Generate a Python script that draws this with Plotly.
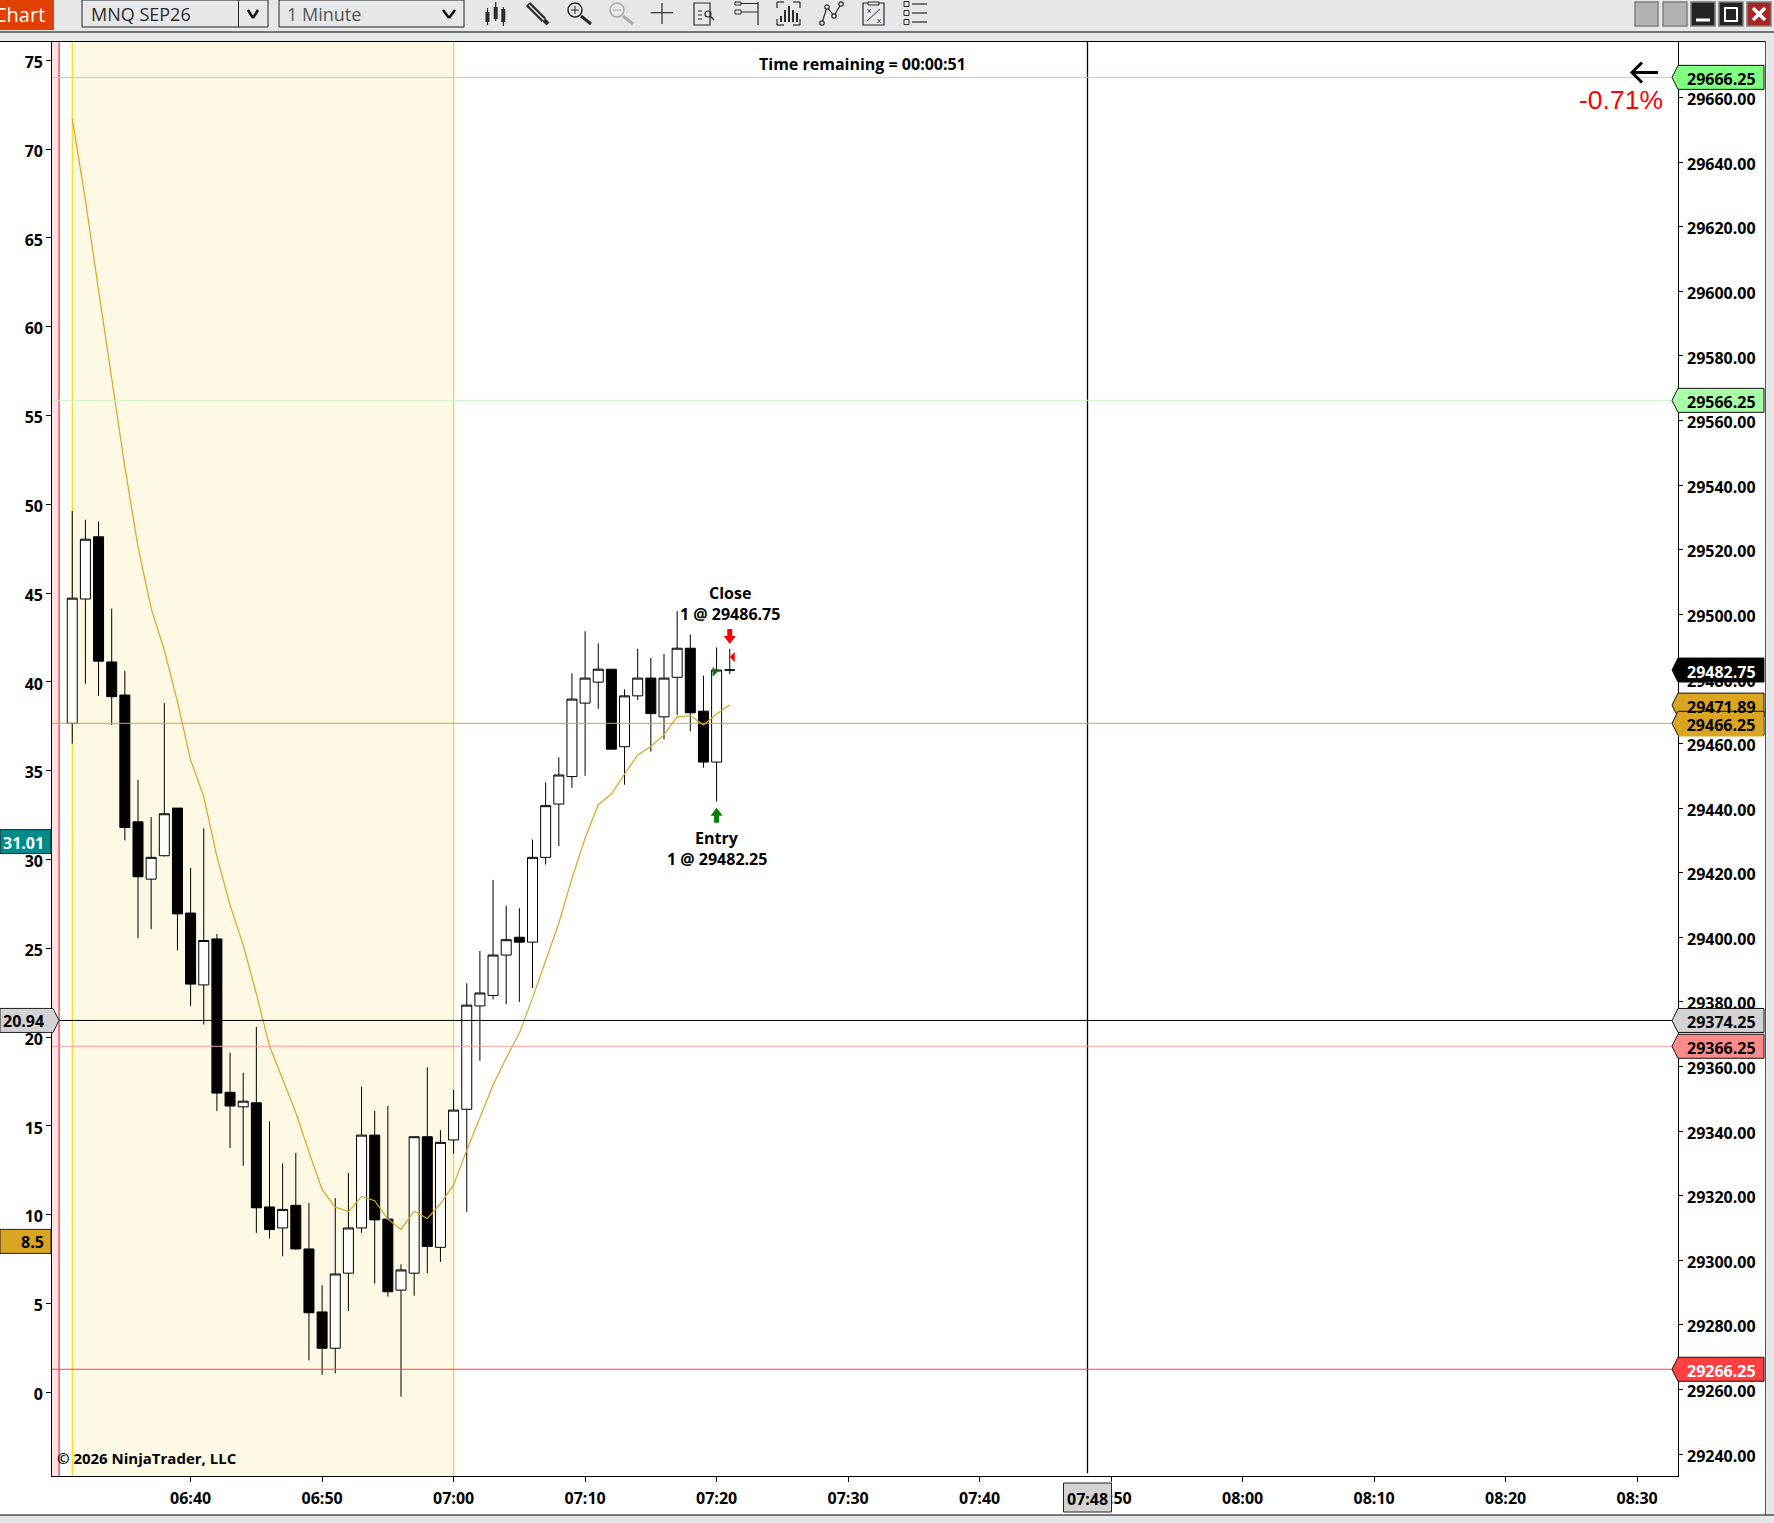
import plotly.graph_objects as go

# ---------- data ----------
DAY = "2026-06-15 "
times = [f"{DAY}{6 + (31 + i) // 60:02d}:{(31 + i) % 60:02d}:00" for i in range(51)]
opens = [29466.25, 29504.75, 29524.0, 29485.25, 29475.0, 29435.75, 29418.0, 29425.25, 29440.0, 29407.5,
         29385.25, 29399.5, 29352.0, 29347.5, 29348.75, 29316.5, 29310.0, 29317.0, 29303.5, 29284.0,
         29272.75, 29296.0, 29310.0, 29338.75, 29312.75, 29290.75, 29296.0, 29338.25, 29304.0, 29337.25,
         29346.75, 29378.75, 29382.0, 29394.5, 29400.0, 29398.5, 29424.75, 29441.25, 29449.75, 29472.5,
         29479.0, 29483.0, 29459.0, 29474.75, 29480.25, 29468.25, 29480.5, 29489.5, 29470.0, 29454.25, 29482.75]
highs = [29532.0, 29529.25, 29528.75, 29501.75, 29482.5, 29448.75, 29437.25, 29472.5, 29440.0, 29421.5,
         29433.75, 29401.0, 29364.25, 29358.0, 29372.25, 29343.0, 29330.0, 29333.25, 29317.75, 29292.25,
         29319.25, 29327.0, 29353.75, 29346.25, 29347.75, 29298.75, 29338.25, 29359.75, 29340.25, 29352.75,
         29385.75, 29395.75, 29417.75, 29409.75, 29409.0, 29430.25, 29448.0, 29455.75, 29481.75, 29494.75,
         29491.0, 29483.0, 29476.75, 29489.25, 29486.5, 29487.75, 29501.0, 29493.75, 29481.0, 29489.75, 29489.25]
lows = [29460.0, 29478.5, 29474.75, 29465.75, 29430.0, 29399.75, 29402.5, 29425.0, 29396.0, 29378.75,
        29373.0, 29346.25, 29334.75, 29329.25, 29308.5, 29306.75, 29301.25, 29303.25, 29269.0, 29264.5,
        29265.0, 29284.25, 29308.5, 29292.75, 29288.75, 29257.75, 29289.0, 29296.0, 29299.5, 29333.0,
        29315.0, 29361.75, 29380.75, 29379.25, 29380.0, 29384.25, 29422.5, 29428.25, 29446.25, 29450.0,
        29470.75, 29458.25, 29447.25, 29473.5, 29457.5, 29461.25, 29468.75, 29463.75, 29452.5, 29442.0, 29481.5]
closes = [29505.0, 29523.25, 29485.5, 29474.5, 29434.0, 29418.75, 29424.75, 29438.25, 29407.25, 29385.5,
          29399.0, 29351.75, 29347.75, 29349.25, 29316.25, 29309.5, 29315.75, 29303.5, 29283.75, 29272.75,
          29295.75, 29310.0, 29338.75, 29312.5, 29290.25, 29297.0, 29338.25, 29304.25, 29336.5, 29346.5,
          29379.0, 29382.75, 29394.5, 29399.25, 29398.5, 29424.75, 29440.75, 29450.25, 29473.75, 29480.25,
          29483.0, 29458.25, 29474.75, 29480.25, 29469.25, 29480.25, 29489.5, 29469.5, 29454.25, 29482.75, 29482.75]
ema = [29653.55, 29628.25, 29600.35, 29573.55, 29545.65, 29520.85, 29501.85, 29488.95, 29472.95, 29454.85,
       29443.55, 29424.95, 29409.95, 29397.65, 29382.45, 29366.35, 29356.25, 29345.75, 29333.55, 29321.85,
       29316.45, 29315.05, 29319.75, 29318.45, 29312.75, 29309.55, 29315.15, 29312.95, 29317.45, 29323.35,
       29334.05, 29344.05, 29354.25, 29362.65, 29370.25, 29381.15, 29392.45, 29404.35, 29418.25, 29430.65,
       29441.05, 29444.35, 29450.55, 29456.45, 29459.05, 29462.65, 29468.25, 29468.65, 29465.75, 29469.15, 29471.89]

x_ticks = ["06:40", "06:50", "07:00", "07:10", "07:20", "07:30", "07:40", "07:50",
           "08:00", "08:10", "08:20", "08:30"]
price_levels = [29666.25, 29566.25, 29466.25, 29374.25, 29366.25, 29266.25]
level_colors = ["#90EE90", "#C8F5C8", "#DAA520", "#000000", "#FF9C9C", "#FF4040"]
right_tags = [
    (29666.25, "#80FF80", "#000000"), (29566.25, "#A8FFA8", "#000000"), (29471.89, "#DAA520", "#000000"),
    (29366.25, "#FF8A8A", "#000000"), (29374.25, "#D3D3D3", "#000000"), (29266.25, "#FF4040", "#FFFFFF"),
    (29482.75, "#000000", "#FFFFFF"), (29466.25, "#DAA520", "#000000"),
]
left_values = [31.01, 20.94, 8.5]

TITLE = "Time remaining = 00:00:51"
COPYRIGHT = "\u00a9 2026 NinjaTrader, LLC"
PCT = "-0.71%"
INSTRUMENT = "MNQ SEP26"
PERIOD = "1 Minute"

# ---------- page geometry ----------
W, H = 1774, 1523
L, R, T, B = 52, 1678, 42, 1476
def X(px): return (px - L) / (R - L)
def Y(py): return (B - py) / (B - T)

FONT = "Open Sans"
FS = 16
shapes_below, shapes_above, notes = [], [], []

def line(x0, y0, x1, y1, color="#2b2b2b", width=1, target=None):
    (shapes_above if target is None else target).append(dict(
        type="line", xref="paper", yref="paper", x0=X(x0), y0=Y(y0), x1=X(x1), y1=Y(y1),
        line=dict(color=color, width=width)))

def rect(x0, y0, x1, y1, fill=None, color=None, width=1):
    shapes_above.append(dict(
        type="rect", xref="paper", yref="paper", x0=X(x0), y0=Y(y0), x1=X(x1), y1=Y(y1),
        fillcolor=fill if fill else "rgba(0,0,0,0)", line=dict(color=color if color else "rgba(0,0,0,0)", width=width if color else 0)))

def circle(cx, cy, r, color="#2b2b2b", width=1.5, fill=None):
    shapes_above.append(dict(
        type="circle", xref="paper", yref="paper", x0=X(cx - r), y0=Y(cy - r), x1=X(cx + r), y1=Y(cy + r),
        fillcolor=fill if fill else "rgba(0,0,0,0)", line=dict(color=color, width=width)))

def text(px, py, s, size=FS, color="#000000", anchor="center", weight=700, family=FONT, **kw):
    notes.append(dict(xref="paper", yref="paper", x=X(px), y=Y(py), text=s, showarrow=False,
                      xanchor=anchor, yanchor="middle", borderpad=0, borderwidth=0,
                      font=dict(family=family, size=size, color=color, weight=weight), **kw))

# ---------- time helpers on the date axis ----------
t0 = DAY + "06:30:00"
t1 = DAY + "06:31:00"
t2 = DAY + "07:00:00"
xstart = DAY + "06:29:27.6"
xend = DAY + "08:33:06.6"

# ---------- background marks ----------
shapes_below += [
    dict(type="rect", xref="x", yref="paper", x0=xstart, x1=t0, y0=0, y1=1, layer="below",
         fillcolor="#FDE3E3", line=dict(width=0)),
    dict(type="rect", xref="x", yref="paper", x0=t1, x1=t2, y0=0, y1=1, layer="below",
         fillcolor="#FEF9E5", line=dict(width=0)),
    dict(type="line", xref="x", yref="paper", x0=t0, x1=t0, y0=0, y1=1, layer="below",
         line=dict(color="#FF0000", width=1)),
    dict(type="line", xref="x", yref="paper", x0=t1, x1=t1, y0=0, y1=1, layer="below",
         line=dict(color="#FFD700", width=1.2)),
    dict(type="line", xref="x", yref="paper", x0=t2, x1=t2, y0=0, y1=1, layer="below",
         line=dict(color="#FFD700", width=1.2)),
]

# crosshair vertical
cross_t = DAY + "07:48:12.3"
shapes_above.append(dict(type="line", xref="x", yref="paper", x0=cross_t, x1=cross_t,
                         y0=0.002, y1=1, line=dict(color="#000000", width=1.3)))

# horizontal levels
for lv, col in zip(price_levels, level_colors):
    shapes_above.append(dict(type="line", xref="paper", yref="y2", x0=0, x1=X(1672), y0=lv, y1=lv,
                             line=dict(color=col, width=1)))

# ---------- toolbar and frame ----------
GRAY = "#E6E7E8"
rect(0, 0, W, 41, GRAY)
line(0, 32, W, 32, "#000000", 1)
line(0, 41.5, W, 41.5, "#000000", 1)
rect(1766, 41, W, H, GRAY)
line(1765.5, 41, 1765.5, 1515, "#555555", 1)
rect(0, 1515, W, H, GRAY)
line(0, 1515, W, 1515, "#000000", 1)
rect(0, 0, 54, 30, "#E04000")
text(45, 14, "Chart", 20, "#FFFFFF", "right", 400)
rect(82, 0, 268, 27, GRAY, "#222222")
line(238.5, 0, 238.5, 27, "#222222")
text(91, 14, INSTRUMENT, 18, "#2b2b2b", "left", 400)
line(248, 10, 253, 18, "#111111", 2.5); line(253, 18, 258, 10, "#111111", 2.5)
rect(279, 0, 464, 27, GRAY, "#222222")
text(287, 14, PERIOD, 18, "#555555", "left", 400)
line(443, 10, 449, 18, "#111111", 2.5); line(449, 18, 455, 10, "#111111", 2.5)

# candlestick icon
for cx, a, b, c, d in [(487.5, 8, 25, 12, 22), (495.7, 2, 21, 7, 19), (503.3, 7, 26, 9, 22)]:
    line(cx, a, cx, b, "#2b2b2b", 1.2)
    rect(cx - 2, c, cx + 2, d, "#2b2b2b")
# pencil icon
line(528, 4, 544, 20, "#2b2b2b", 6); line(529, 5, 544, 20, "#E6E7E8", 1.5)
line(544, 20, 548, 24, "#2b2b2b", 4)
# zoom in / out
circle(575, 10, 7, "#2b2b2b", 1.5)
line(571, 10, 579, 10); line(575, 6, 575, 14)
line(581, 16, 591, 24, "#2b2b2b", 3)
circle(617, 10, 7, "#AAAAAA", 1.5)
line(613, 10, 621, 10, "#AAAAAA")
line(623, 16, 633, 24, "#AAAAAA", 3)
# crosshair
line(651, 12.7, 673, 12.7, "#2b2b2b", 1.2); line(662, 3, 662, 24, "#2b2b2b", 1.2)
# document search
rect(694, 3, 710, 25, None, "#2b2b2b", 1.2)
line(698, 11, 702, 11); line(698, 15, 702, 15); line(698, 19, 702, 19)
circle(708, 14, 3, "#2b2b2b", 1.2); line(710, 16, 714, 20, "#2b2b2b", 1.5)
# properties-like icon
rect(735, 2, 741, 5, None, "#2b2b2b"); rect(735, 10, 741, 14, None, "#2b2b2b")
line(741, 3.5, 758, 3.5); line(741, 12, 758, 12); line(758, 2, 758, 25, "#2b2b2b", 1.2)
# bracket chart icon
for a, b, c, d in [(777, 2, 784, 2), (793, 2, 800, 2), (777, 25, 784, 25), (793, 25, 800, 25),
                   (777, 2, 777, 8), (800, 2, 800, 8), (777, 19, 777, 25), (800, 19, 800, 25)]:
    line(a, b, c, d, "#2b2b2b", 1.2)
for cx, top in [(781, 16), (785, 10), (789, 6), (793, 10), (797, 13)]:
    line(cx, top, cx, 22, "#2b2b2b", 2)
# drawing polyline icon
pts = [(822, 23), (827, 7), (834, 16), (841, 4)]
for (a, b), (c, d) in zip(pts, pts[1:]):
    line(a, b, c, d, "#2b2b2b", 1.2)
for a, b in pts:
    circle(a, b, 2.2, "#2b2b2b", 1.2, GRAY)
# clipboard icon
rect(863, 3, 884, 25, None, "#2b2b2b", 1.2)
rect(868, 2, 879, 5, GRAY, "#2b2b2b")
line(867, 21, 880, 9); text(869, 10, "x", 8, "#2b2b2b", weight=400); text(879, 19, "x", 8, "#2b2b2b", weight=400)
# list icon
for cy in [4, 13, 22]:
    rect(904, cy - 2.5, 909, cy + 2.5, None, "#2b2b2b")
    line(912, cy, 927, cy, "#2b2b2b", 1.2)
# window buttons
rect(1635, 2, 1658, 26, "#B4B2B2", "#808080", 1.5)
rect(1663, 2, 1687, 26, "#B4B2B2", "#808080", 1.5)
rect(1691, 2, 1715, 26, "#242424", "#808080", 1.5)
line(1696, 20, 1710, 20, "#FFFFFF", 3)
rect(1719, 2, 1743, 26, "#242424", "#808080", 1.5)
rect(1725, 8, 1737, 21, None, "#FFFFFF", 2)
rect(1747, 2, 1771, 26, "#A82525", "#808080", 1.5)
line(1753, 8, 1765, 20, "#FFFFFF", 3.5); line(1765, 8, 1753, 20, "#FFFFFF", 3.5)

# ---------- price tags ----------
for value, fill, fg in right_tags:
    shapes_above.append(dict(
        type="path", xref="paper", yref="y2", xsizemode="pixel", ysizemode="pixel",
        xanchor=X(1672), yanchor=value,
        path="M 0 0 L 6 12 L 92 12 L 92 -12 L 6 -12 Z",
        fillcolor=fill, line=dict(color="#111111", width=1)))
    notes.append(dict(
        xref="paper", yref="y2", x=X(1721), y=value, yshift=-2, text=f"{value:.2f}", showarrow=False,
        xanchor="center", yanchor="middle", font=dict(family=FONT, size=FS, color=fg, weight=700),
        bgcolor=fill if value == 29466.25 else None, width=84 if value == 29466.25 else None,
        height=22 if value == 29466.25 else None, borderpad=0))

left_fill = ["#008B8B", "#D3D3D3", "#DAA520"]
left_fg = ["#FFFFFF", "#000000", "#000000"]
for value, fill, fg in zip(left_values, left_fill, left_fg):
    if value == 20.94:
        path = "M 0 12 L 53 12 L 59 0 L 53 -12 L 0 -12 Z"
    else:
        path = "M 0 12 L 51 12 L 51 -12 L 0 -12 Z"
    shapes_above.append(dict(
        type="path", xref="paper", yref="y", xsizemode="pixel", ysizemode="pixel",
        xanchor=X(0), yanchor=value, path=path, fillcolor=fill, line=dict(color="#222222", width=1)))
    notes.append(dict(
        xref="paper", yref="y", x=X(46), y=value, yshift=-1, text=str(value), showarrow=False,
        xanchor="right", yanchor="middle", font=dict(family=FONT, size=FS, color=fg, weight=700)))

# ---------- trade markers ----------
def arrow(when, price, path, color):
    shapes_above.append(dict(type="path", xref="x", yref="y2", xsizemode="pixel", ysizemode="pixel",
                             xanchor=when, yanchor=price, path=path, fillcolor=color, line=dict(width=0)))

entry_t, close_t = DAY + "07:20:00", DAY + "07:21:00"
arrow(entry_t, 29442.0, "M 0 -6 L 6 -14 L 2.5 -14 L 2.5 -21 L -2.5 -21 L -2.5 -14 L -6 -14 Z", "#008000")
arrow(close_t, 29489.25, "M 0 5 L 6 13 L 2.5 13 L 2.5 20 L -2.5 20 L -2.5 13 L -6 13 Z", "#FF0000")
arrow(entry_t, 29482.25, "M -4 5 L -4 -5 L 1 0 Z", "#008000")
arrow(close_t, 29486.75, "M 5 5 L 5 -5 L 0 0 Z", "#FF0000")

shapes_above.append(dict(type="path", xref="paper", yref="paper",
                         xsizemode="pixel", ysizemode="pixel", xanchor=X(1632), yanchor=Y(72.5),
                         path="M 0 0 L 26 0 M 10 10 L 0 0 L 10 -10", line=dict(color="#000000", width=3)))

text(730, 593, "Close")
text(730, 614, "1 @ 29486.75")
text(716.7, 838, "Entry")
text(716.7, 858.5, "1 @ 29482.25")
text(862.5, 64, TITLE)
text(57, 1458, COPYRIGHT, 15, anchor="left")
text(1621, 100, PCT, 26.5, "#FF0000", weight=400, family="Liberation Sans")

# crosshair time tag
rect(1063.5, 1483, 1111.5, 1512, "#D3D3D3", "#222222")
text(1087.5, 1498.5, "07:48")

# ---------- figure ----------
fig = go.Figure()
fig.add_trace(go.Candlestick(
    x=times, open=opens, high=highs, low=lows, close=closes, yaxis="y2",
    increasing=dict(line=dict(color="#000000", width=1), fillcolor="#FFFFFF"),
    decreasing=dict(line=dict(color="#000000", width=1), fillcolor="#000000"),
    whiskerwidth=0, showlegend=False, hoverinfo="skip"))
fig.add_trace(go.Scatter(
    x=times, y=ema, mode="lines", yaxis="y2", line=dict(color="#DAA520", width=1.2),
    showlegend=False, hoverinfo="skip"))
# empty traces keep the label-only axes alive
fig.add_trace(go.Scatter(x=times[:1], y=[None], yaxis="y3", showlegend=False, hoverinfo="skip"))
fig.add_trace(go.Scatter(x=times[:1], y=[None], yaxis="y4", showlegend=False, hoverinfo="skip"))

tickfont = dict(family=FONT, size=FS, color="#000000", weight=700)
LEFT_RANGE = [-4.71, 76.03]
RIGHT_RANGE = [29233.2, 29677.2]
LABEL_DROP_PX = 2   # tick labels sit slightly below their tick marks in the reference
left_shift = LABEL_DROP_PX * (LEFT_RANGE[1] - LEFT_RANGE[0]) / (B - T)
right_shift = LABEL_DROP_PX * (RIGHT_RANGE[1] - RIGHT_RANGE[0]) / (B - T)

fig.update_layout(
    width=W, height=H, autosize=False,
    margin=dict(l=L, r=W - R, t=T, b=H - B, pad=0),
    paper_bgcolor="#FFFFFF", plot_bgcolor="#FFFFFF",
    boxgap=0.24, boxgroupgap=0, showlegend=False, hovermode=False,
    font=dict(family=FONT),
    xaxis=dict(type="date", range=[xstart, xend], rangeslider=dict(visible=False),
               tickmode="array", tickvals=[DAY + t + ":00" for t in x_ticks], ticktext=x_ticks,
               ticks="outside", ticklen=5, tickcolor="#000000", tickwidth=1,
               showgrid=False, zeroline=False, showline=True, linecolor="#000000", linewidth=1,
               tickfont=tickfont, ticklabelstandoff=3),
    yaxis=dict(range=LEFT_RANGE, tick0=0, dtick=5, side="left",
               ticks="outside", ticklen=5, tickcolor="#000000", tickwidth=1, showticklabels=False,
               showgrid=False, zeroline=False, showline=True, linecolor="#000000", linewidth=1),
    yaxis2=dict(range=RIGHT_RANGE, tick0=29240, dtick=20, side="right", overlaying="y",
                ticks="outside", ticklen=4, tickcolor="#000000", tickwidth=1, showticklabels=False,
                showgrid=False, zeroline=False, showline=True, linecolor="#000000", linewidth=1),
    yaxis3=dict(range=[LEFT_RANGE[0] + left_shift, LEFT_RANGE[1] + left_shift], tick0=0, dtick=5,
                side="left", overlaying="y", ticks="", showgrid=False, zeroline=False, showline=False,
                tickfont=tickfont, ticklabelstandoff=8),
    yaxis4=dict(range=[RIGHT_RANGE[0] + right_shift, RIGHT_RANGE[1] + right_shift], tick0=29240, dtick=20,
                side="right", overlaying="y", tickformat=".2f", ticks="", showgrid=False, zeroline=False,
                showline=False, tickfont=tickfont, ticklabelstandoff=8),
    shapes=shapes_below + shapes_above,
    annotations=notes,
)
fig.write_html("out.html", config={"displayModeBar": False},
               post_script="document.body.style.margin='0';document.documentElement.style.overflow='hidden';")
